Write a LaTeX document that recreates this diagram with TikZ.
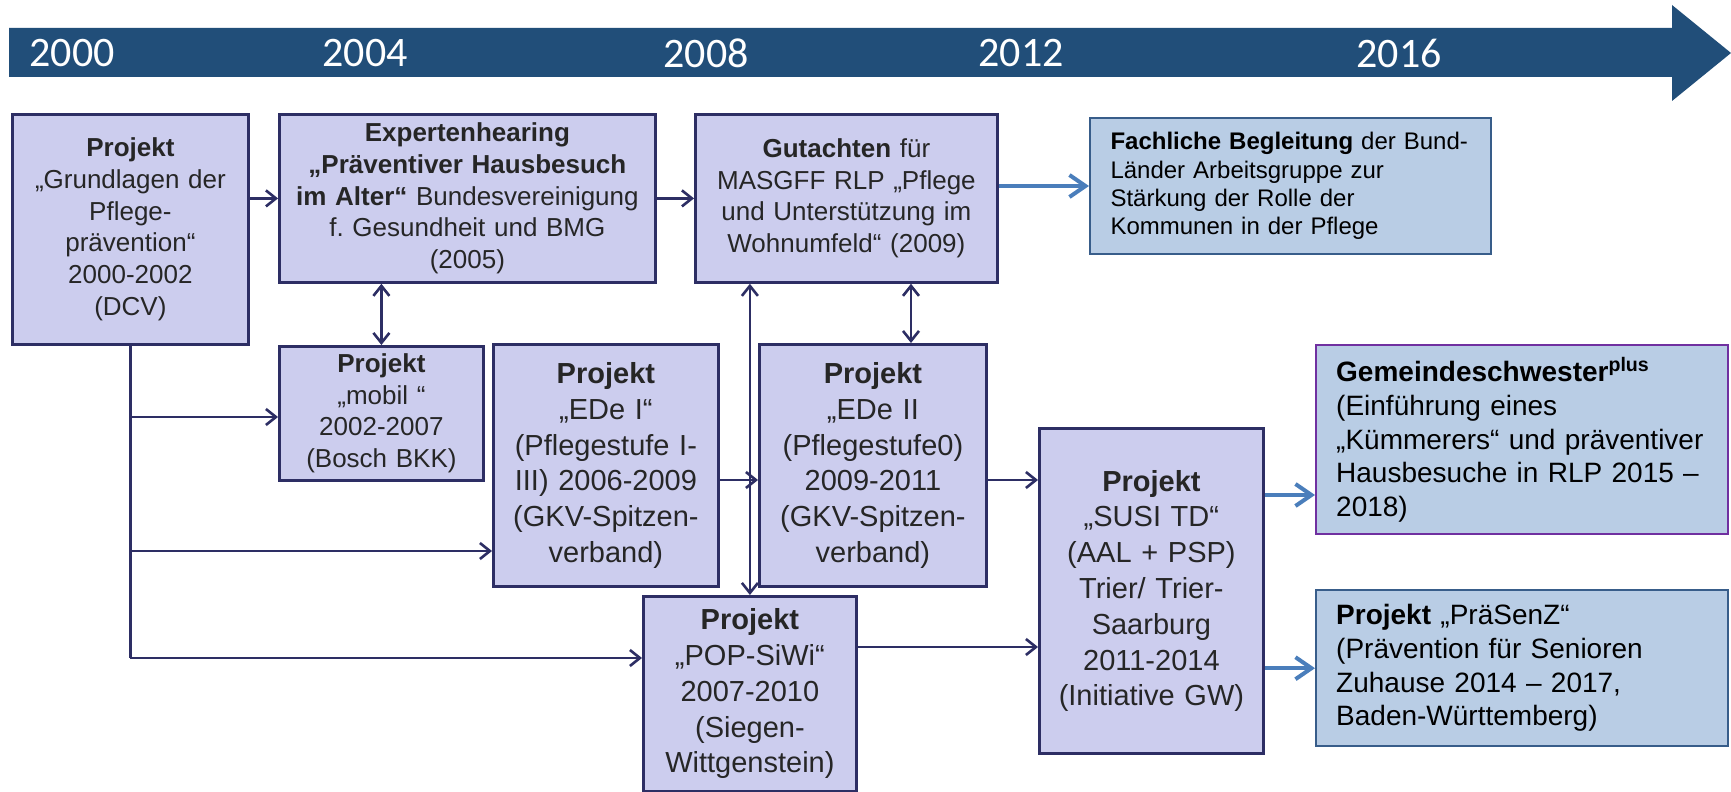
\documentclass[tikz,border=0pt]{standalone}
\usepackage{fontspec}
\setmainfont{Liberation Sans}
\newfontfamily\yearfont{Carlito}
\usetikzlibrary{arrows.meta}
\frenchspacing

\definecolor{band}{RGB}{33,78,121}
\definecolor{lav}{RGB}{204,205,238}
\definecolor{navy}{RGB}{45,46,100}
\definecolor{ink}{RGB}{38,38,38}
\definecolor{pale}{RGB}{185,205,229}
\definecolor{paleedge}{RGB}{56,93,138}
\definecolor{plum}{RGB}{112,48,160}
\definecolor{link}{RGB}{74,126,187}

\begin{document}
\begin{tikzpicture}[x=0.5pt, y=-0.5pt,% one unit = one pixel, y downwards
    proj/.style={draw=navy, fill=lav, line width=1.4pt, anchor=north west,
      inner sep=2pt, align=center, text=ink},
    small/.style={font=\fontsize{13pt}{15.85pt}\selectfont},
    large/.style={font=\fontsize{14.5pt}{17.9pt}\selectfont},
    note/.style={draw=paleedge, fill=pale, line width=1pt, anchor=north west,
      inner xsep=10pt, inner ysep=2pt, align=left, text=black, text width=186pt,
      font=\fontsize{14pt}{16.85pt}\selectfont},
    conn/.style={draw=navy, line width=1.3pt, >={Straight Barb[length=5pt,width=8pt]}, ->},
    both/.style={conn, <->},
    blue/.style={draw=link, line width=2pt, >={Straight Barb[length=8pt,width=11pt]}, ->},
  ]
    \fill[white] (0,0) rectangle (1731,792);
    \useasboundingbox (0,0) rectangle (1731,792);

    % time axis
    \fill[band] (9,28) -- (1672,28) -- (1672,5) -- (1731,53) -- (1672,101)
      -- (1672,77) -- (9,77) -- cycle;
    \foreach \yr/\xp in {2000/72, 2004/365, 2008/706, 2012/1021, 2016/1399}
        \node[text=white, font=\yearfont\fontsize{21pt}{24pt}\selectfont]
          (y\yr) at (\xp,53) {\yr};

    % first row
    \node[proj, small, minimum width=118pt, minimum height=115pt, text width=112pt]
      (grund) at (11,113)
      {\textbf{Projekt}\\„Grundlagen der\\Pflege-\\prävention“\\2000-2002\\(DCV)};
    \node[proj, small, minimum width=188pt, minimum height=84pt, text width=184pt]
      (expert) at (278,113)
      {\textbf{Expertenhearing}\\\textbf{„Präventiver Hausbesuch}\\
       \textbf{im Alter“} Bundesvereinigung\\f. Gesundheit und BMG\\(2005)};
    \node[proj, small, minimum width=151pt, minimum height=84pt, text width=147pt]
      (gutachten) at (694,113)
      {\textbf{Gutachten} für\\MASGFF RLP „Pflege\\und Unterstützung im\\Wohnumfeld“ (2009)};
    \node[note, font=\fontsize{12pt}{14.15pt}\selectfont, text width=180pt,
      minimum width=200.5pt, minimum height=68pt]
      (begleit) at (1089,117)
      {\textbf{Fachliche Begleitung} der Bund-\\Länder Arbeitsgruppe zur\\
       Stärkung der Rolle der\\Kommunen in der Pflege};

    % second row
    \node[proj, small, minimum width=102pt, minimum height=67pt, text width=98pt]
      (mobil) at (278,345)
      {\textbf{Projekt}\\„mobil “\\2002-2007\\(Bosch BKK)};
    \node[proj, large, minimum width=112.5pt, minimum height=121pt, text width=108pt]
      (edeI) at (492,343)
      {\textbf{Projekt}\\„EDe I“\\(Pflegestufe I-\\III) 2006-2009\\(GKV-Spitzen-\\verband)};
    \node[proj, large, minimum width=113.5pt, minimum height=121pt, text width=109pt]
      (edeII) at (758,343)
      {\textbf{Projekt}\\„EDe II\\(Pflegestufe0)\\2009-2011\\(GKV-Spitzen-\\verband)};
    \node[proj, large, minimum width=106.5pt, minimum height=97.5pt, text width=102pt]
      (popsiwi) at (642,595)
      {\textbf{Projekt}\\„POP-SiWi“\\2007-2010\\(Siegen-\\Wittgenstein)};
    \node[proj, large, minimum width=112pt, minimum height=162.5pt, text width=108pt]
      (susi) at (1038,427)
      {\textbf{Projekt}\\„SUSI TD“\\(AAL + PSP)\\Trier/ Trier-\\Saarburg\\2011-2014\\(Initiative GW)};

    % outlook boxes
    \node[note, draw=plum, line width=1.2pt, minimum width=206pt, minimum height=94.5pt]
      (schwester) at (1315,344)
      {\textbf{Gemeindeschwester\textsuperscript{plus}}\\(Einführung eines\\
       „Kümmerers“ und präventiver\\Hausbesuche in RLP 2015 –\\2018)};
    \node[note, line width=1.2pt, minimum width=206pt, minimum height=78pt]
      (praesenz) at (1315,589)
      {\textbf{Projekt} „PräSenZ“\\(Prävention für Senioren\\Zuhause 2014 – 2017,\\
       Baden-Württemberg)};

    % connectors
    \draw[conn] (grund.east |- expert.west) -- (expert.west);
    \draw[conn] (expert.east) -- (gutachten.west);
    \draw[blue] (gutachten.east |- begleit.west) -- (begleit.west);
    \draw[both] (mobil.north |- expert.south) -- (mobil.north);
    \draw[both] (911,0 |- gutachten.south) -- (911,0 |- edeII.north);
    \draw[both] (popsiwi.north |- gutachten.south) -- (popsiwi.north);

    % trunk out of the first project
    \coordinate (tm) at (grund.south |- 0,417);
    \coordinate (tf) at (grund.south |- 0,551);
    \coordinate (tp) at (grund.south |- 0,658);
    \draw[navy, line width=1.3pt] (grund.south) -- (tp);
    \draw[conn] (tm) -- (tm -| mobil.west);
    \draw[conn] (tf) -- (tf -| edeI.west);
    \draw[conn] (tp) -- (tp -| popsiwi.west);

    \coordinate (r2) at (0,480);
    \draw[conn] (r2 -| edeI.east) -- (r2 -| edeII.west);
    \draw[conn] (r2 -| edeII.east) -- (r2 -| susi.west);
    \draw[conn] (popsiwi.east |- 0,647) -- (susi.west |- 0,647);

    \draw[blue] (susi.east |- 0,495) -- (schwester.west |- 0,495);
    \draw[blue] (susi.east |- praesenz.west) -- (praesenz.west);
\end{tikzpicture}
\end{document}
